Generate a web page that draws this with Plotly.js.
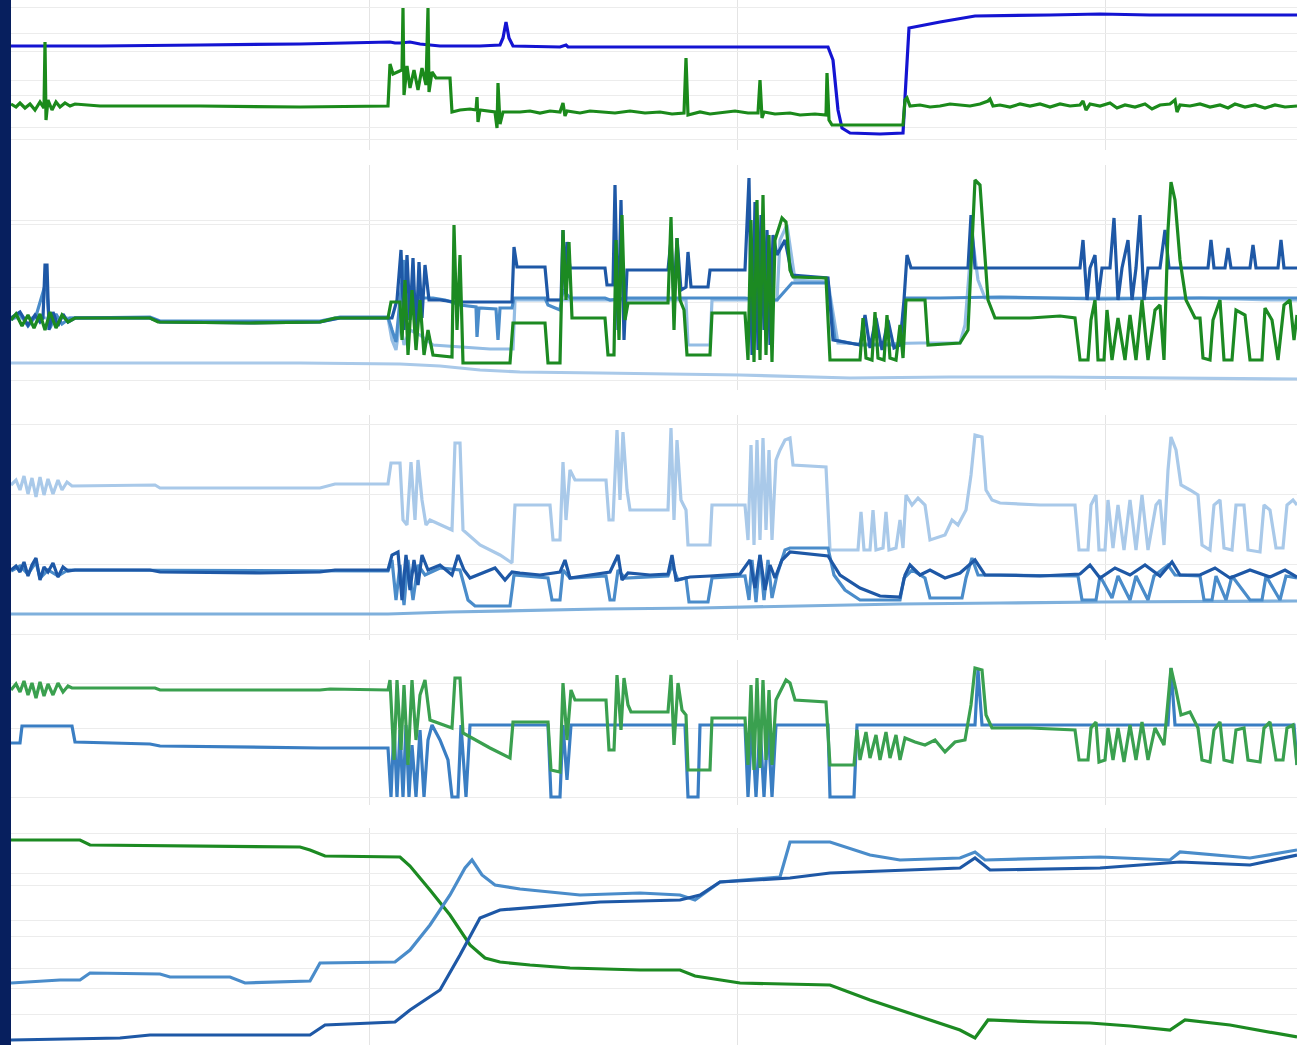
<!DOCTYPE html>
<html>
<head>
<meta charset="utf-8">
<script src="https://cdn.plot.ly/plotly-3.0.1.min.js"></script>
<style>
  html, body { margin: 0; padding: 0; width: 1297px; height: 1045px; overflow: hidden; background: #071f5e; }
  #chart { position: absolute; left: 11px; top: 0; width: 1286px; height: 1045px; background: #ffffff; }
</style>
</head>
<body>
<div id="chart"></div>
<script>
// ---- Panel 1: level (blue) and flow (green) ----
const p1BlueT = [11,100,200,300,390,395,400,410,420,440,480,500,503,506,509,513,560,566,568,700,828,833,838,842,850,880,903,906,909,940,975,1050,1100,1150,1200,1297];
const p1BlueV = [104,104,105,106,108,107,107,108,106,104,104,105,112,128,112,104,103,105,103,103,103,90,40,22,17,16,17,70,122,128,134,135,136,135,135,135];

const p1GreenT = [11,16,20,25,30,35,40,44,45,46,48,52,56,60,65,70,75,100,200,300,388,390,393,398,402,403,404,407,410,414,418,422,426,428,429,432,436,450,452,460,470,476,477,478,480,495,497,498,500,503,
  520,530,540,550,560,563,565,567,580,590,600,615,630,645,660,672,684,686,688,700,710,720,735,748,758,760,762,764,775,790,800,815,826,827,829,832,860,903,905,907,
  910,920,930,940,950,960,970,980,988,990,993,1000,1010,1020,1030,1040,1050,1060,1070,1080,1083,1086,1090,1100,1110,1117,1125,1135,1145,1152,1160,1170,1175,1177,1180,1190,1200,1210,1220,1228,1235,1245,1255,1265,1275,1285,1297];
const p1GreenV = [46,43,47,42,46,40,48,42,108,30,50,40,48,43,47,44,46,44,44,43,44,86,76,78,80,142,55,84,62,80,60,82,65,142,58,78,72,72,38,40,41,40,53,28,40,38,22,67,26,38,
  38,39,37,39,38,47,34,39,37,39,38,37,39,37,38,36,37,92,35,38,36,37,39,37,37,70,32,38,36,37,35,36,35,77,30,25,25,25,50,52,
  44,45,43,44,46,45,44,46,49,51,44,45,43,46,44,46,43,46,44,45,49,40,46,44,47,42,45,43,46,41,45,46,50,38,45,44,46,43,45,42,46,43,45,42,45,43,44];

// ---- Panel 2: four valve positions and a trend line ----
const p2BaseT = [11,300,400,440,480,520,600,740,850,950,1050,1150,1297];
const p2BaseV = [27,27,26,24,20,18,17,15,12,13,13,12,11];

const p2LightT = [11,150,160,320,340,388,392,396,400,404,410,420,433,460,490,513,515,547,600,686,688,710,712,777,780,787,795,828,838,870,920,960,965,972,978,985,1100,1200,1270,1297];
const p2LightV = [72,72,68,68,72,72,50,40,70,45,60,55,45,43,41,41,90,90,90,90,45,45,90,90,150,165,110,108,47,46,47,47,65,155,110,92,92,92,90,90];

const p2MidT = [11,20,28,36,46,50,56,62,70,150,160,320,340,388,392,396,400,404,408,412,420,433,445,460,476,477,479,496,498,500,512,514,545,548,560,563,570,605,610,627,670,700,745,760,777,792,828,835,860,900,905,940,1000,1100,1200,1297];
const p2MidV = [70,76,64,74,108,62,76,66,72,73,69,69,73,73,60,48,90,130,70,90,92,92,90,85,83,53,82,81,50,82,82,92,92,85,80,100,92,92,90,92,92,92,92,90,90,107,107,50,45,45,92,92,93,91,92,92];

const p2DarkT = [11,20,28,35,40,43,45,47,49,53,58,63,68,75,150,160,250,320,340,388,392,397,401,404,407,410,413,416,419,422,425,429,440,455,470,500,512,514,517,545,548,561,563,565,567,570,605,607,613,615,618,621,624,627,668,671,674,677,681,686,688,691,708,710,745,749,752,755,758,761,764,767,770,773,777,785,792,828,833,860,865,870,876,882,888,894,900,904,907,911,968,971,975,1080,1083,1087,1090,1095,1098,1102,1110,1114,1118,1122,1128,1132,1136,1140,1144,1148,1160,1165,1169,1208,1211,1214,1225,1228,1231,1250,1253,1256,1278,1281,1284,1297];
const p2DarkV = [72,78,65,75,68,72,125,125,60,78,64,76,68,72,72,68,67,68,72,72,72,90,140,60,135,70,132,55,128,72,125,90,90,88,88,88,88,143,123,123,90,90,160,100,148,122,122,105,105,205,60,190,50,120,120,150,90,152,100,103,138,103,103,120,120,212,35,188,40,175,60,160,45,155,135,150,115,112,50,45,75,42,72,40,70,42,45,90,135,122,122,175,122,122,150,90,122,135,90,122,122,172,90,122,150,90,122,175,90,122,122,160,122,122,150,122,122,142,122,122,145,122,122,150,122,122];

const p2GreenT = [11,16,22,28,34,40,45,50,56,62,68,75,150,158,250,320,335,388,391,400,402,405,408,412,416,420,424,428,433,452,454,457,460,463,510,513,545,548,560,563,566,569,572,605,608,614,616,619,622,625,628,668,671,674,677,680,684,687,710,712,745,748,751,754,757,760,763,766,769,772,775,778,782,786,790,793,826,830,860,863,866,872,875,878,884,887,890,896,900,903,906,915,925,928,960,968,972,975,980,984,988,995,1030,1060,1075,1080,1088,1091,1095,1098,1104,1107,1112,1118,1125,1130,1136,1142,1148,1155,1160,1164,1168,1171,1175,1180,1186,1195,1200,1203,1210,1213,1220,1224,1232,1236,1245,1250,1262,1265,1272,1278,1284,1290,1294,1297];
const p2GreenV = [70,76,64,75,62,76,60,78,62,75,68,72,72,68,67,68,72,72,88,88,50,110,35,100,40,90,35,60,35,33,165,60,135,27,27,67,67,27,27,160,90,148,72,72,35,35,150,50,175,70,87,87,173,60,152,90,80,35,35,77,77,30,170,28,190,30,195,35,155,28,150,160,172,168,120,113,112,30,30,72,32,30,78,32,30,75,32,30,65,32,90,90,90,45,47,60,150,210,205,150,90,72,72,74,72,30,30,70,90,30,30,80,30,72,30,75,30,90,30,80,85,30,160,208,190,130,90,72,72,32,30,70,90,30,30,80,75,30,30,82,70,30,85,90,50,75];

// ---- Panel 3: three pressures and a slow drift ----
const p3BaseT = [11,388,450,500,600,700,800,900,1000,1100,1297];
const p3BaseV = [26,26,28,29,31,32,34,36,37,38,39];

const p3PaleT = [11,16,20,24,28,32,36,40,44,48,53,58,62,67,72,155,160,260,320,335,388,391,400,403,407,411,415,418,422,426,430,452,455,460,463,480,500,512,515,520,550,553,560,563,566,570,575,606,609,613,617,620,623,627,630,668,671,674,677,681,686,688,710,712,745,748,751,754,757,760,763,766,769,772,776,780,785,790,793,826,830,858,861,864,870,873,876,883,886,889,896,900,903,906,912,918,925,930,945,952,958,966,971,975,982,986,992,1000,1040,1075,1079,1088,1091,1096,1099,1105,1108,1113,1118,1124,1130,1136,1142,1148,1156,1160,1164,1168,1171,1176,1181,1190,1198,1202,1210,1214,1220,1224,1232,1236,1244,1248,1260,1264,1270,1276,1283,1287,1293,1297];
const p3PaleV = [155,160,150,164,146,162,143,163,145,161,146,160,150,158,154,155,152,152,152,156,156,177,177,120,115,178,120,180,140,115,120,110,197,197,110,95,85,77,135,135,135,100,100,178,120,170,160,160,120,120,210,140,208,150,130,130,212,120,200,140,130,95,95,135,135,100,195,95,200,100,202,110,190,100,180,190,200,202,175,173,90,90,128,90,90,130,90,92,128,90,92,120,92,145,135,142,135,100,105,120,115,130,165,205,203,150,140,137,135,135,90,90,135,145,90,90,140,92,135,90,140,90,145,90,135,140,95,170,203,190,155,150,145,95,90,135,140,92,90,135,135,90,88,135,130,92,92,135,140,135];

const p3MidT = [11,20,28,36,40,48,58,68,388,392,396,400,404,408,413,418,425,440,460,468,475,510,514,548,552,560,563,570,606,610,614,618,625,668,672,678,686,689,708,712,745,749,752,756,760,764,768,772,777,785,790,828,834,845,860,900,904,912,925,930,962,966,972,978,1078,1082,1096,1100,1112,1118,1130,1136,1148,1154,1168,1175,1200,1204,1212,1216,1226,1232,1250,1262,1266,1280,1286,1297];
const p3MidV = [69,74,66,78,62,70,64,70,69,80,40,75,35,80,40,75,65,72,70,40,34,34,65,62,40,40,70,62,64,40,40,70,62,64,75,60,62,38,38,62,64,40,80,38,85,40,80,42,65,90,92,92,65,50,40,40,62,70,62,42,42,62,82,65,64,40,40,64,42,64,40,64,40,64,75,65,64,40,40,64,40,64,40,40,64,40,64,62];

const p3DarkT = [11,16,20,24,28,32,36,40,44,48,53,58,63,68,75,150,160,260,320,335,388,392,398,402,406,410,414,418,422,428,440,452,458,464,470,478,485,495,505,512,520,540,560,565,570,590,610,618,622,628,650,668,672,676,690,710,740,750,755,760,765,770,775,782,790,828,840,860,880,900,905,910,920,930,945,960,975,985,1000,1040,1080,1090,1100,1115,1130,1145,1160,1172,1180,1200,1215,1230,1250,1270,1285,1297];
const p3DarkV = [70,74,68,78,64,75,82,60,73,68,77,63,73,69,70,70,68,67,68,70,70,85,88,40,85,50,80,55,85,70,75,65,85,70,62,65,68,72,60,68,67,65,68,80,62,65,68,85,60,67,65,66,85,60,63,64,66,80,52,85,50,75,62,80,88,84,65,52,44,43,65,75,65,70,62,67,80,65,65,64,66,75,62,72,65,75,64,78,65,65,72,62,70,63,70,63];

// ---- Panel 4: demand (green) and command (blue) ----
const p4BlueT = [11,20,22,72,75,150,160,320,388,391,394,397,400,403,406,409,412,416,420,424,428,432,440,448,452,458,461,466,470,548,551,560,563,567,571,685,688,698,700,745,748,752,756,760,764,768,772,776,828,830,854,857,975,978,982,1168,1171,1175,1294,1297];
const p4BlueV = [62,62,79,79,63,61,59,57,57,8,80,8,75,8,80,8,60,8,75,8,65,80,65,45,8,8,80,8,80,80,8,8,80,25,80,80,8,8,80,80,8,80,8,80,8,80,8,80,80,8,8,80,80,135,80,80,137,80,80,40];

const p4GreenT = [11,16,20,24,28,32,36,40,44,48,53,58,63,68,72,155,160,320,330,388,390,394,397,401,404,408,412,416,420,425,430,452,455,460,463,490,510,513,548,551,560,563,567,571,575,606,609,614,617,621,624,628,631,668,671,674,678,682,686,688,710,712,745,748,751,754,757,760,763,766,769,772,776,781,786,790,795,826,830,854,857,860,866,870,876,880,886,890,896,900,905,915,925,935,945,955,965,971,975,982,986,992,1030,1075,1079,1088,1091,1096,1099,1105,1108,1113,1118,1124,1130,1136,1142,1148,1155,1164,1168,1171,1176,1181,1190,1198,1202,1210,1214,1220,1224,1232,1236,1244,1248,1260,1264,1270,1276,1283,1287,1293,1297];
const p4GreenV = [115,121,113,124,110,122,107,123,109,121,110,122,113,119,117,117,115,115,116,115,125,45,125,55,120,40,125,65,110,125,85,77,127,127,72,57,47,83,83,35,33,122,65,115,105,105,55,55,130,75,127,100,93,93,130,60,122,95,90,35,35,87,87,40,120,35,127,37,125,45,115,40,105,115,125,122,105,103,40,40,75,45,73,47,70,45,73,47,70,45,67,63,60,65,53,63,65,100,137,135,90,77,77,75,45,45,77,83,43,45,77,45,77,43,80,45,83,45,77,60,105,137,115,90,93,77,45,43,75,83,45,43,75,77,45,43,77,83,45,45,77,80,40];

// ---- Panel 5: cumulative shares ----
const p5GreenT = [11,80,90,200,300,310,325,400,410,430,450,470,485,500,530,570,640,680,695,740,830,870,920,960,975,988,1040,1090,1130,1170,1185,1230,1297];
const p5GreenV = [205,205,200,199,198,195,189,188,179,155,130,100,87,83,80,77,75,75,69,62,60,45,28,15,7,25,23,22,19,15,25,20,8];

const p5MidT = [11,60,80,90,160,170,230,245,310,320,395,410,430,450,465,472,482,495,520,580,640,680,695,720,780,790,830,870,900,960,975,985,1100,1170,1180,1250,1297];
const p5MidV = [62,65,65,72,71,68,68,62,64,82,83,95,120,150,177,185,170,160,156,150,152,150,145,163,168,203,203,190,185,187,193,185,188,185,193,187,195];

const p5DarkT = [11,120,150,310,325,395,410,440,460,480,500,560,600,680,700,720,790,830,900,960,975,990,1100,1180,1250,1297];
const p5DarkV = [5,7,10,10,20,23,35,55,90,127,135,140,143,145,150,163,167,172,175,177,187,175,177,183,180,190];

// Light grid rows for each panel (axis units)
const p1Grid = [143,117,99,70,55,23,11];
const p2Grid = [170,166,103,88,10];
const p3Grid = [216,146,76,6];
const p4Grid = [122,77,8];
const p5Grid = [212,172,160,125,109,77,57,31];

// ---- figure ----
const FIG_H = 1045;
// [top, bottom] of each panel in figure pixels
const panels = [[0,150],[165,390],[415,640],[660,805],[828,1045]];
const grids = [p1Grid,p2Grid,p3Grid,p4Grid,p5Grid];

const C = {
  blue: '#1414d2', green1: '#1b8a1b',
  dark: '#1e58a6', mid: '#4a8cca', light: '#94bde4', pale: '#a9c9e9',
  green2: '#1c8a22', green4: '#3aa04f', blue4: '#3a7ec3', base3: '#7fb0dc'
};

function line(t, v, color, k, w) {
  const s = k === 1 ? '' : String(k);
  return { x: t, y: v, type: 'scatter', mode: 'lines', xaxis: 'x' + s, yaxis: 'y' + s,
           line: { color: color, width: w || 3.2 }, hoverinfo: 'skip', showlegend: false };
}

const data = [
  line(p1BlueT, p1BlueV, C.blue, 1),
  line(p1GreenT, p1GreenV, C.green1, 1),

  line(p2BaseT, p2BaseV, C.pale, 2),
  line(p2LightT, p2LightV, C.light, 2),
  line(p2MidT, p2MidV, C.mid, 2),
  line(p2DarkT, p2DarkV, C.dark, 2),
  line(p2GreenT, p2GreenV, C.green2, 2),

  line(p3BaseT, p3BaseV, C.base3, 3),
  line(p3PaleT, p3PaleV, C.pale, 3),
  line(p3MidT, p3MidV, C.mid, 3),
  line(p3DarkT, p3DarkV, C.dark, 3),

  line(p4BlueT, p4BlueV, C.blue4, 4),
  line(p4GreenT, p4GreenV, C.green4, 4),

  line(p5GreenT, p5GreenV, C.green2, 5),
  line(p5MidT, p5MidV, C.mid, 5),
  line(p5DarkT, p5DarkV, C.dark, 5)
];

const layout = {
  width: 1286, height: FIG_H,
  margin: { l: 0, r: 0, t: 0, b: 0, pad: 0 },
  paper_bgcolor: '#ffffff', plot_bgcolor: '#ffffff',
  showlegend: false
};

panels.forEach((p, i) => {
  const s = i === 0 ? '' : String(i + 1);
  const h = p[1] - p[0];
  layout['xaxis' + s] = {
    domain: [0, 1], range: [11, 1297], anchor: 'y' + s,
    tick0: 369, dtick: 368, showgrid: true, gridcolor: '#e4e4e4', gridwidth: 1,
    showticklabels: false, ticks: '', zeroline: false, showline: false, fixedrange: true
  };
  layout['yaxis' + s] = {
    domain: [(FIG_H - p[1]) / FIG_H, (FIG_H - p[0]) / FIG_H], range: [0, h], anchor: 'x' + s,
    tickmode: 'array', tickvals: grids[i], showgrid: true, gridcolor: '#ececec', gridwidth: 1,
    showticklabels: false, ticks: '', zeroline: false, showline: false, fixedrange: true
  };
});

Plotly.newPlot('chart', data, layout, { displayModeBar: false, staticPlot: true });
</script>
</body>
</html>
